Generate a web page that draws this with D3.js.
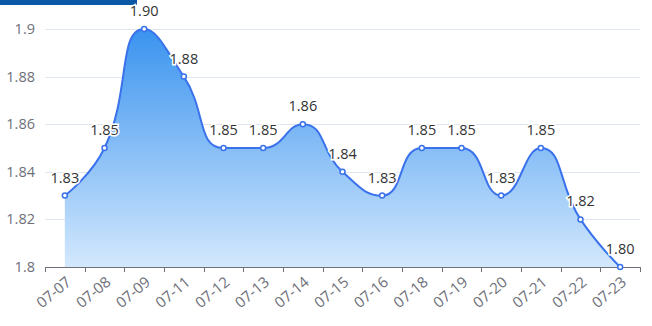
<!DOCTYPE html>
<html>
<head>
<meta charset="utf-8">
<script src="https://cdn.jsdelivr.net/npm/d3@7"></script>
<style>
  html, body { margin: 0; padding: 0; background: #fff; }
  svg { display: block; font-family: "Open Sans", "Noto Sans", sans-serif; }
</style>
</head>
<body>
<svg id="chart" width="652" height="326"></svg>
<script>
// ── data ──────────────────────────────────────────────────────────────
const dates  = ["07-07","07-08","07-09","07-11","07-12","07-13","07-14","07-15",
                "07-16","07-18","07-19","07-20","07-21","07-22","07-23"];
const prices = [1.83, 1.85, 1.90, 1.88, 1.85, 1.85, 1.86, 1.84,
                1.83, 1.85, 1.85, 1.83, 1.85, 1.82, 1.80];
const yTicks = [1.8, 1.82, 1.84, 1.86, 1.88, 1.9];

const W = 652, H = 326;
const margin = { top: 29, right: 12, bottom: 59, left: 45 };

const svg = d3.select("#chart");

// dark strip top-left
svg.append("rect")
  .attr("x", 0).attr("y", 0).attr("width", 137).attr("height", 5)
  .attr("fill", "#0a58a6");

const x = d3.scaleBand()
  .domain(dates)
  .range([margin.left, W - margin.right]);

const y = d3.scaleLinear()
  .domain([1.8, 1.9])
  .range([H - margin.bottom, margin.top]);

// grid lines
svg.append("g").selectAll("line")
  .data(yTicks.slice(1)).enter().append("line")
  .attr("x1", margin.left).attr("x2", W - margin.right)
  .attr("y1", d => Math.round(y(d)) + 0.5).attr("y2", d => Math.round(y(d)) + 0.5)
  .attr("stroke", "#e0e6f1").attr("stroke-width", 1);

// y labels
svg.append("g").selectAll("text")
  .data(yTicks).enter().append("text")
  .attr("x", margin.left - 10)
  .attr("y", d => y(d))
  .attr("dy", "0.35em")
  .attr("text-anchor", "end")
  .attr("font-size", 14.5)
  .attr("fill", "#6e7079")
  .text(d => d3.format("")(d));

// ECharts-style smooth path (control points clamped to neighbours)
function smoothPath(pts, smooth) {
  const p = d3.path();
  let prevX, prevY, cpx0, cpy0;
  pts.forEach((pt, i) => {
    const [px, py] = pt;
    if (i === 0) {
      p.moveTo(px, py);
      cpx0 = px; cpy0 = py;
    } else {
      let cpx1, cpy1, nCpx0, nCpy0;
      if (i === pts.length - 1) {
        cpx1 = px; cpy1 = py;
      } else {
        const [nx, ny] = pts[i + 1];
        let vx = nx - prevX, vy = ny - prevY;
        const lenPrev = Math.hypot(px - prevX, py - prevY);
        const lenNext = Math.hypot(nx - px, ny - py);
        const ratio = lenNext / (lenNext + lenPrev);
        nCpx0 = px + vx * smooth * ratio;
        nCpy0 = py + vy * smooth * ratio;
        nCpx0 = Math.max(Math.min(nCpx0, Math.max(nx, px)), Math.min(nx, px));
        nCpy0 = Math.max(Math.min(nCpy0, Math.max(ny, py)), Math.min(ny, py));
        vx = nCpx0 - px; vy = nCpy0 - py;
        cpx1 = px - vx * lenPrev / lenNext;
        cpy1 = py - vy * lenPrev / lenNext;
        cpx1 = Math.max(Math.min(cpx1, Math.max(prevX, px)), Math.min(prevX, px));
        cpy1 = Math.max(Math.min(cpy1, Math.max(prevY, py)), Math.min(prevY, py));
        vx = px - cpx1; vy = py - cpy1;
        nCpx0 = px + vx * lenNext / lenPrev;
        nCpy0 = py + vy * lenNext / lenPrev;
      }
      p.bezierCurveTo(cpx0, cpy0, cpx1, cpy1, px, py);
      cpx0 = nCpx0; cpy0 = nCpy0;
    }
    prevX = px; prevY = py;
  });
  return p.toString();
}

const pts = dates.map((d, i) => [x(d) + x.bandwidth() / 2, y(prices[i])]);
const linePath = smoothPath(pts, 0.5);
const base = y(1.8);

// gradient
const defs = svg.append("defs");
const grad = defs.append("linearGradient")
  .attr("id", "areaGrad")
  .attr("gradientUnits", "userSpaceOnUse")
  .attr("x1", 0).attr("y1", y(1.9)).attr("x2", 0).attr("y2", base);
grad.append("stop").attr("offset", 0).attr("stop-color", "#3a93ef");
grad.append("stop").attr("offset", 1).attr("stop-color", "#d3e8fd");

svg.append("path")
  .attr("d", linePath + `L${pts[pts.length - 1][0]},${base}L${pts[0][0]},${base}Z`)
  .attr("fill", "url(#areaGrad)");

// axis line + ticks
const axis = svg.append("g");
axis.append("line")
  .attr("x1", margin.left).attr("x2", W - margin.right)
  .attr("y1", base + 0.5).attr("y2", base + 0.5)
  .attr("stroke", "#6e7079");
const tickXs = dates.map(d => x(d)).concat([x.range()[1]]);
axis.selectAll("line.tick")
  .data(tickXs).enter().append("line")
  .attr("class", "tick")
  .attr("x1", d => Math.round(d) + 0.5).attr("x2", d => Math.round(d) + 0.5)
  .attr("y1", base).attr("y2", base + 5)
  .attr("stroke", "#6e7079");

axis.selectAll("text")
  .data(dates).enter().append("text")
  .attr("transform", d => `translate(${x(d) + x.bandwidth() / 2},${base + 8}) rotate(-40)`)
  .attr("text-anchor", "end")
  .attr("dy", "0.75em")
  .attr("font-size", 15)
  .attr("fill", "#6e7079")
  .text(d => d);

// line
svg.append("path")
  .attr("d", linePath)
  .attr("fill", "none")
  .attr("stroke", "#3a72ec")
  .attr("stroke-width", 2);

// labels
svg.append("g").selectAll("text")
  .data(pts).enter().append("text")
  .attr("x", d => d[0])
  .attr("y", d => d[1] - 13)
  .attr("text-anchor", "middle")
  .attr("font-size", 14.5)
  .attr("fill", "#333")
  .attr("stroke", "#fff")
  .attr("stroke-width", 3)
  .attr("paint-order", "stroke")
  .text((d, i) => prices[i].toFixed(2));

// symbols
svg.append("g").selectAll("circle")
  .data(pts).enter().append("circle")
  .attr("cx", d => d[0]).attr("cy", d => d[1])
  .attr("r", 2.5)
  .attr("fill", "#fff")
  .attr("stroke", "#3a72ec")
  .attr("stroke-width", 1.5);
</script>
</body>
</html>
